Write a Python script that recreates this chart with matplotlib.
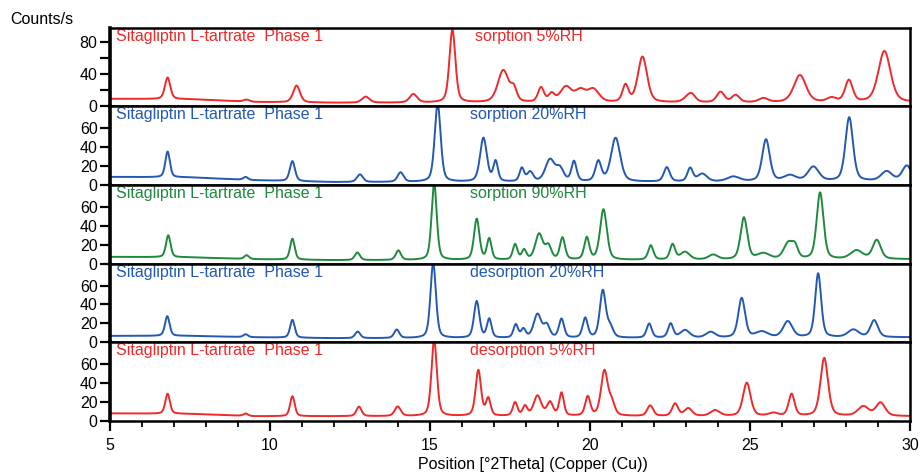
import numpy as np
import matplotlib
matplotlib.use("Agg")
import matplotlib.pyplot as plt
from matplotlib.ticker import MultipleLocator

plt.rcParams['font.family'] = ['Liberation Sans', 'DejaVu Sans']

# ---------------- data ----------------
two_theta_range = (5, 30)

labels_left = ["Sitagliptin L-tartrate  Phase 1"] * 5
labels_right = ["sorption 5%RH", "sorption 20%RH", "sorption 90%RH",
                "desorption 20%RH", "desorption 5%RH"]
colors = ["#ee2a2a", "#2459b0", "#1f8a3e", "#2459b0", "#ee2a2a"]

# baseline anchors (2theta, counts/s)
base_pos = [5, 7.5, 9.5, 12, 20, 30]
base_s5 = [9, 8.5, 5, 4, 4, 4.5]
base_s20 = [8.5, 8, 5, 3, 3, 4]
base_s90 = [7.5, 7, 5, 4, 4, 5]
base_d20 = [6.5, 6.5, 5, 4, 4, 5]
base_d5 = [8, 7.5, 5, 5, 5, 5]

# peaks: position (2theta), net height (counts/s), FWHM (deg)
pos_s5 = [6.80, 9.27, 10.83, 12.99, 14.48, 15.70, 17.29, 17.62, 18.47, 18.80,
          19.25, 19.70, 20.10, 21.11, 21.64, 23.05, 23.18, 24.08, 24.55, 25.42,
          26.56, 27.55, 28.09, 29.20]
hgt_s5 = [27, 2.5, 21, 7.5, 10.5, 91, 40, 15, 18, 10,
          19, 14, 16, 21, 57, 5, 8, 13, 9, 5,
          34, 5, 27, 64]
wid_s5 = [0.2, 0.22, 0.25, 0.28, 0.28, 0.22, 0.4, 0.22, 0.22, 0.22,
          0.42, 0.38, 0.42, 0.22, 0.34, 0.34, 0.28, 0.28, 0.28, 0.34,
          0.45, 0.34, 0.28, 0.45]

pos_s20 = [6.80, 9.24, 10.70, 12.81, 14.08, 15.24, 16.67, 17.05, 17.87, 18.13,
           18.75, 19.06, 19.50, 20.26, 20.80, 22.40, 23.13, 23.51, 24.48, 25.50,
           26.25, 26.98, 28.10, 29.27, 29.90]
hgt_s20 = [27, 3, 21, 8, 10, 82, 46, 21, 14, 10,
           23, 13, 21, 21, 46, 15, 14, 8, 5, 44,
           6, 15, 67, 10, 16]
wid_s20 = [0.17, 0.17, 0.19, 0.22, 0.22, 0.22, 0.25, 0.17, 0.17, 0.22,
           0.34, 0.28, 0.19, 0.22, 0.34, 0.22, 0.2, 0.34, 0.45, 0.28,
           0.45, 0.4, 0.28, 0.4, 0.34]

pos_s90 = [6.82, 9.27, 10.70, 12.73, 14.01, 15.13, 16.46, 16.85, 17.66, 17.94,
           18.41, 18.70, 19.14, 19.90, 20.42, 21.90, 22.58, 22.97, 23.85, 24.81,
           25.42, 26.20, 26.41, 27.19, 28.33, 28.96]
hgt_s90 = [23, 4, 22, 8, 10, 81, 43, 22, 16, 10,
           27, 14, 23, 23, 53, 15, 16, 8, 5, 44,
           6, 17, 11, 70, 9, 20]
wid_s90 = [0.17, 0.17, 0.17, 0.19, 0.19, 0.19, 0.2, 0.17, 0.17, 0.17,
           0.28, 0.22, 0.19, 0.19, 0.25, 0.19, 0.19, 0.34, 0.34, 0.25,
           0.45, 0.34, 0.22, 0.25, 0.45, 0.3]

pos_d20 = [6.79, 9.24, 10.70, 12.74, 13.96, 15.10, 16.46, 16.85, 17.68, 17.92,
           18.36, 18.65, 19.11, 19.85, 20.40, 20.63, 21.85, 22.52, 22.97, 23.77,
           24.74, 25.37, 26.18, 27.13, 28.23, 28.88]
hgt_d20 = [21, 3, 19, 7, 9, 80, 39, 20, 14, 9,
           25, 13, 20, 21, 50, 11, 15, 15, 8, 6,
           42, 6, 17, 68, 8, 18]
wid_d20 = [0.17, 0.17, 0.17, 0.19, 0.19, 0.2, 0.2, 0.17, 0.17, 0.17,
           0.28, 0.22, 0.19, 0.19, 0.22, 0.22, 0.19, 0.19, 0.34, 0.34,
           0.25, 0.45, 0.34, 0.22, 0.4, 0.28]

pos_d5 = [6.80, 9.24, 10.70, 12.78, 13.99, 15.13, 16.51, 16.82, 17.66, 17.97,
          18.36, 18.75, 19.11, 19.93, 20.45, 20.68, 21.88, 22.66, 23.07, 23.91,
          24.90, 25.73, 26.30, 27.32, 28.54, 29.08]
hgt_d5 = [21, 2.5, 21, 10, 10, 80, 48, 18, 14, 10,
          21, 14, 24, 20, 47, 13, 11, 13, 8, 6,
          35, 3, 23, 61, 10, 14]
wid_d5 = [0.17, 0.17, 0.17, 0.19, 0.22, 0.2, 0.2, 0.17, 0.17, 0.17,
          0.28, 0.22, 0.17, 0.19, 0.25, 0.22, 0.22, 0.22, 0.28, 0.34,
          0.28, 0.34, 0.22, 0.28, 0.4, 0.34]

y_limits = [97.5, 83, 83, 83, 83]
y_ticks_top = [0, 20, 40, 60, 80]
y_ticklabels_top = ["0", "", "40", "", "80"]
y_ticks_other = [0, 20, 40, 60]

patterns = [
    (pos_s5, hgt_s5, wid_s5, base_s5),
    (pos_s20, hgt_s20, wid_s20, base_s20),
    (pos_s90, hgt_s90, wid_s90, base_s90),
    (pos_d20, hgt_d20, wid_d20, base_d20),
    (pos_d5, hgt_d5, wid_d5, base_d5),
]

# ---------------- drawing ----------------
x = np.linspace(two_theta_range[0], two_theta_range[1], 2501)


def profile(pos, hgt, wid, base):
    y = np.interp(x, base_pos, base)
    eta = 0.4
    for p, h, w in zip(pos, hgt, wid):
        d = (x - p) / (w / 2.0)
        lor = 1.0 / (1.0 + d ** 2)
        gau = np.exp(-np.log(2) * d ** 2)
        y = y + h * (eta * lor + (1 - eta) * gau)
    return y


W, H = 921, 473
fig = plt.figure(figsize=(W / 100, H / 100), dpi=100)

left_px, right_px = 110, 910
panel_edges = [28, 106, 185, 264, 342, 421]
right_label_x = [0.456, 0.45, 0.45, 0.45, 0.45]

for i, (pat, col) in enumerate(zip(patterns, colors)):
    top, bot = panel_edges[i], panel_edges[i + 1]
    ax = fig.add_axes([left_px / W, 1 - bot / H, (right_px - left_px) / W, (bot - top) / H])
    ax.plot(x, profile(*pat), color=col, lw=1.4)
    ax.set_xlim(*two_theta_range)
    ax.set_ylim(0, y_limits[i])
    if i == 0:
        ax.set_yticks(y_ticks_top)
        ax.set_yticklabels(y_ticklabels_top)
    else:
        ax.set_yticks(y_ticks_other)
    for s in ax.spines.values():
        s.set_linewidth(1.8)
        s.set_zorder(5)
    ax.spines['left'].set_linewidth(2.6)
    ax.tick_params(axis='y', direction='out', length=7, width=1.6, labelsize=11.5, pad=2)
    if i == 4:
        ax.xaxis.set_major_locator(MultipleLocator(5))
        ax.xaxis.set_minor_locator(MultipleLocator(1))
        ax.tick_params(axis='x', which='major', direction='out', length=7, width=1.6,
                       labelsize=11.5, pad=5)
        ax.tick_params(axis='x', which='minor', direction='out', length=4, width=1.3)
    else:
        ax.set_xticks([])
    ax.text(0.007, 0.985, labels_left[i], transform=ax.transAxes, color=col,
            fontsize=11.5, ha='left', va='top')
    ax.text(right_label_x[i], 0.985, labels_right[i], transform=ax.transAxes, color=col,
            fontsize=11.5, ha='left', va='top')

fig.text(10 / W, 1 - 19 / H, "Counts/s", fontsize=11.5, ha='left', va='center')
fig.text(533 / W, 1 - 464 / H, "Position [°2Theta] (Copper (Cu))", fontsize=11.5,
         ha='center', va='center')

fig.savefig("out.png", dpi=100)
